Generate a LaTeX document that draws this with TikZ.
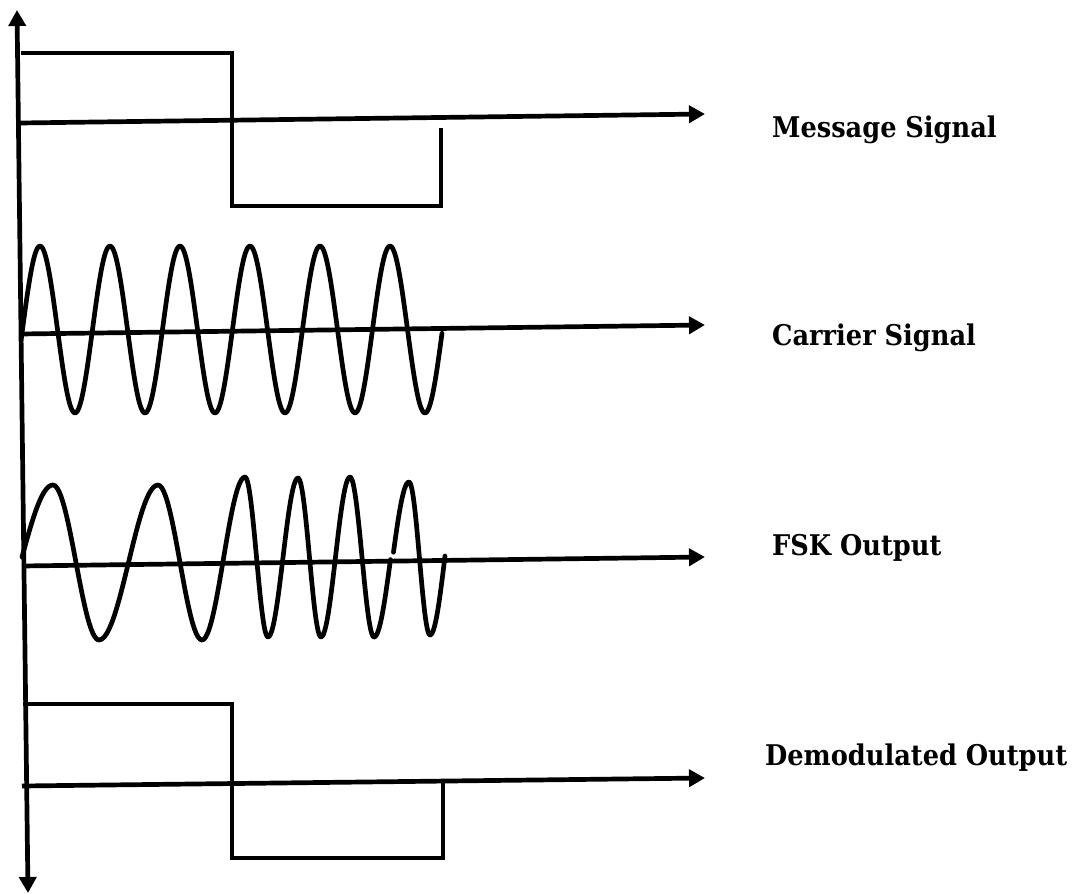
\documentclass[tikz,border=0pt]{standalone}
\usepackage{fontspec}
\setmainfont{DejaVu Serif Condensed}
\usepackage{tikz}
\usetikzlibrary{arrows.meta, positioning}
\tikzset{
  tip/.tip={Triangle[length=16pt, width=17pt]},
  axis/.style={line width=4.7pt, -tip},
  sig/.style={line width=4.7pt, line join=round, line cap=round},
  sqw/.style={line width=4.7pt},
  lbl/.style={font=\fontsize{28.5}{34}\selectfont\bfseries, inner sep=0pt, anchor=base west},
  % half cycle between two extrema, part #1 of it
  wave/.style n args={5}{insert path={-- plot[domain=#1, samples=24] ({#2+(#4-#2)*\x},{#3+(#5-#3)*(1-cos(180*\x))/2})}}
}

\begin{document}
\begin{tikzpicture}[x=1pt, y=-1pt]
  \useasboundingbox (0,0) rectangle (1080,894);
  % vertical axis
  \coordinate (vtop) at (17,10);
  \coordinate (vbot) at (28,893);
  \draw[line width=4.7pt, tip-tip] (vtop) -- (vbot);
  % time axes
  \coordinate (m0) at (20,123);  \coordinate (m1) at (705,114);
  \coordinate (c0) at (20,334);  \coordinate (c1) at (705,325);
  \coordinate (f0) at (22,566);  \coordinate (f1) at (705,557);
  \coordinate (d0) at (22,786);  \coordinate (d1) at (705,778);
  \draw[axis] (m0) -- (m1);
  \draw[axis] (c0) -- (c1);
  \draw[axis] (f0) -- (f1);
  \draw[axis] (d0) -- (d1);
  % message signal
  \draw[sqw] (21,53) -- (232,53) -- (232,206) -- (441,206) -- (441,128);
  % carrier signal
  \draw[sig] plot[smooth, domain=21:442, samples=300] (\x, {329.5-83.5*sin(5.142857*(\x-22.5))});
  % fsk output
  \draw[sig] (22,557) [wave={0.5:1}{-9}{629}{53}{485}]
    [wave={0:1}{53}{485}{99}{640}] [wave={0:1}{99}{640}{158}{485}]
    [wave={0:1}{158}{485}{202}{640}] [wave={0:1}{202}{640}{245}{477}]
    [wave={0:1}{245}{477}{268}{637}] [wave={0:1}{268}{637}{298}{478}]
    [wave={0:1}{298}{478}{321}{637}] [wave={0:1}{321}{637}{350}{477}]
    [wave={0:1}{350}{477}{374}{637}] [wave={0:0.5}{374}{637}{407}{482}];
  \draw[sig] (393.5,552) [wave={0.53:1}{376}{637}{409}{482}]
    [wave={0:1}{409}{482}{430}{635}] [wave={0:0.5}{430}{635}{460}{477}];
  % demodulated output
  \draw[sqw] (23,704) -- (232,704) -- (232,858) -- (443,858) -- (443,780);
  % labels
  \node[lbl] (msg) at (772,137) {Message Signal};
  \node[lbl] (car) at (772,345) {Carrier Signal};
  \node[lbl] (fsk) at (772,555) {FSK Output};
  \node[lbl] (dem) at (765,765) {Demodulated Output};
\end{tikzpicture}
\end{document}
